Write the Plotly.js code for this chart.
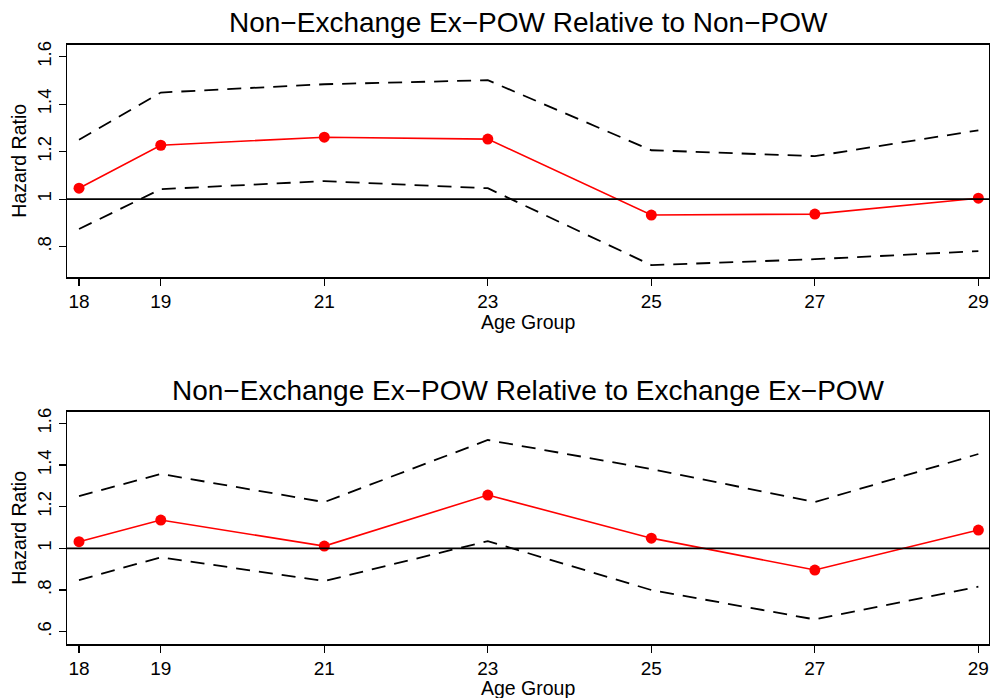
<!DOCTYPE html>
<html>
<head>
<meta charset="utf-8">
<script src="https://cdn.plot.ly/plotly-3.0.1.min.js"></script>
<style>html,body{margin:0;padding:0;background:#fff;}#chart{width:990px;height:698px;}</style>
</head>
<body>
<div id="chart"></div>
<script>
// Age groups (x axis)
const ageGroups = [18, 19, 21, 23, 25, 27, 29];

// Panel 1: Non-Exchange Ex-POW relative to Non-POW
const hr1 = [1.046, 1.227, 1.261, 1.253, 0.933, 0.937, 1.004];
const upper1 = [1.250, 1.449, 1.484, 1.501, 1.206, 1.181, 1.290];
const lower1 = [0.874, 1.042, 1.076, 1.046, 0.722, 0.747, 0.781];

// Panel 2: Non-Exchange Ex-POW relative to Exchange Ex-POW
const hr2 = [1.032, 1.136, 1.011, 1.256, 1.049, 0.896, 1.088];
const upper2 = [1.251, 1.357, 1.222, 1.520, 1.381, 1.222, 1.453];
const lower2 = [0.848, 0.957, 0.843, 1.035, 0.800, 0.659, 0.816];

// Tick labels
const yTickVals1 = [0.8, 1, 1.2, 1.4, 1.6];
const yTickText1 = [".8", "1", "1.2", "1.4", "1.6"];
const yTickVals2 = [0.6, 0.8, 1, 1.2, 1.4, 1.6];
const yTickText2 = [".6", ".8", "1", "1.2", "1.4", "1.6"];

const title1 = "Non\u2212Exchange Ex\u2212POW Relative to Non\u2212POW";
const title2 = "Non\u2212Exchange Ex\u2212POW Relative to Exchange Ex\u2212POW";
const xTitle = "Age Group";
const yTitle = "Hazard Ratio";

const FONT = "Liberation Sans, Arial, Helvetica, sans-serif";

function ciTrace(y, xa, ya) {
  return {x: ageGroups, y: y, xaxis: xa, yaxis: ya, mode: 'lines', type: 'scatter',
    line: {color: '#000', width: 1.8, dash: '14px,9px'}, hoverinfo: 'skip', showlegend: false};
}
function hrTrace(y, xa, ya) {
  return {x: ageGroups, y: y, xaxis: xa, yaxis: ya, mode: 'lines+markers', type: 'scatter',
    line: {color: '#ff0000', width: 1.6}, marker: {color: '#ff0000', size: 11}, showlegend: false};
}

const data = [
  ciTrace(upper1, 'x', 'y'), ciTrace(lower1, 'x', 'y'), hrTrace(hr1, 'x', 'y'),
  ciTrace(upper2, 'x2', 'y2'), ciTrace(lower2, 'x2', 'y2'), hrTrace(hr2, 'x2', 'y2')
];

const H = 698, mt = 44, mb = 54, ph = H - mt - mb;
function frac(py) { return (H - mb - py) / ph; }

const xCommon = {
  range: [17.853, 29.13], tickvals: ageGroups, ticks: 'outside', ticklen: 7, tickwidth: 1.2,
  tickcolor: '#000', showline: true, linecolor: '#000', linewidth: 1.5, mirror: true,
  showgrid: false, zeroline: false, tickfont: {family: FONT, size: 19, color: '#000'}
};
function yAxis(range, vals, text, dom, anchor) {
  return {
    range: range, domain: dom, anchor: anchor, tickvals: vals, ticktext: text, tickangle: -90,
    ticks: 'outside', ticklen: 7, tickwidth: 1.2, tickcolor: '#000', showline: true,
    linecolor: '#000', linewidth: 1.5, mirror: true, showgrid: false, zeroline: false,
    tickfont: {family: FONT, size: 18.5, color: '#000'},
    title: {text: yTitle, font: {family: FONT, size: 19.5, color: '#000'}, standoff: 2}
  };
}

function xTitleAnn(py) {
  return {text: xTitle, xref: 'paper', yref: 'paper', x: 0.5, y: frac(py), xanchor: 'center', yanchor: 'middle',
    showarrow: false, font: {family: FONT, size: 19.5, color: '#000'}};
}

const layout = {
  width: 990, height: 698,
  margin: {l: 67, r: 1, t: mt, b: mb},
  paper_bgcolor: '#fff', plot_bgcolor: '#fff',
  showlegend: false,
  xaxis: Object.assign({}, xCommon, {anchor: 'y'}),
  xaxis2: Object.assign({}, xCommon, {anchor: 'y2'}),
  yaxis: yAxis([0.672, 1.651], yTickVals1, yTickText1, [frac(277), frac(44.6)], 'x'),
  yaxis2: yAxis([0.541, 1.656], yTickVals2, yTickText2, [frac(644), frac(411.7)], 'x2'),
  shapes: [
    {type: 'line', xref: 'x domain', yref: 'y', x0: 0, x1: 1, y0: 1, y1: 1, line: {color: '#000', width: 1.6}},
    {type: 'line', xref: 'x2 domain', yref: 'y2', x0: 0, x1: 1, y0: 1, y1: 1, line: {color: '#000', width: 1.6}}
  ],
  annotations: [
    {text: title1, xref: 'paper', yref: 'paper', x: 0.5, y: frac(22), xanchor: 'center', yanchor: 'middle',
      showarrow: false, font: {family: FONT, size: 28, color: '#000'}},
    {text: title2, xref: 'paper', yref: 'paper', x: 0.5, y: frac(390), xanchor: 'center', yanchor: 'middle',
      showarrow: false, font: {family: FONT, size: 28, color: '#000'}},
    xTitleAnn(321.5),
    xTitleAnn(687.5)
  ]
};

Plotly.newPlot('chart', data, layout, {displayModeBar: false, staticPlot: true});
</script>
</body>
</html>
